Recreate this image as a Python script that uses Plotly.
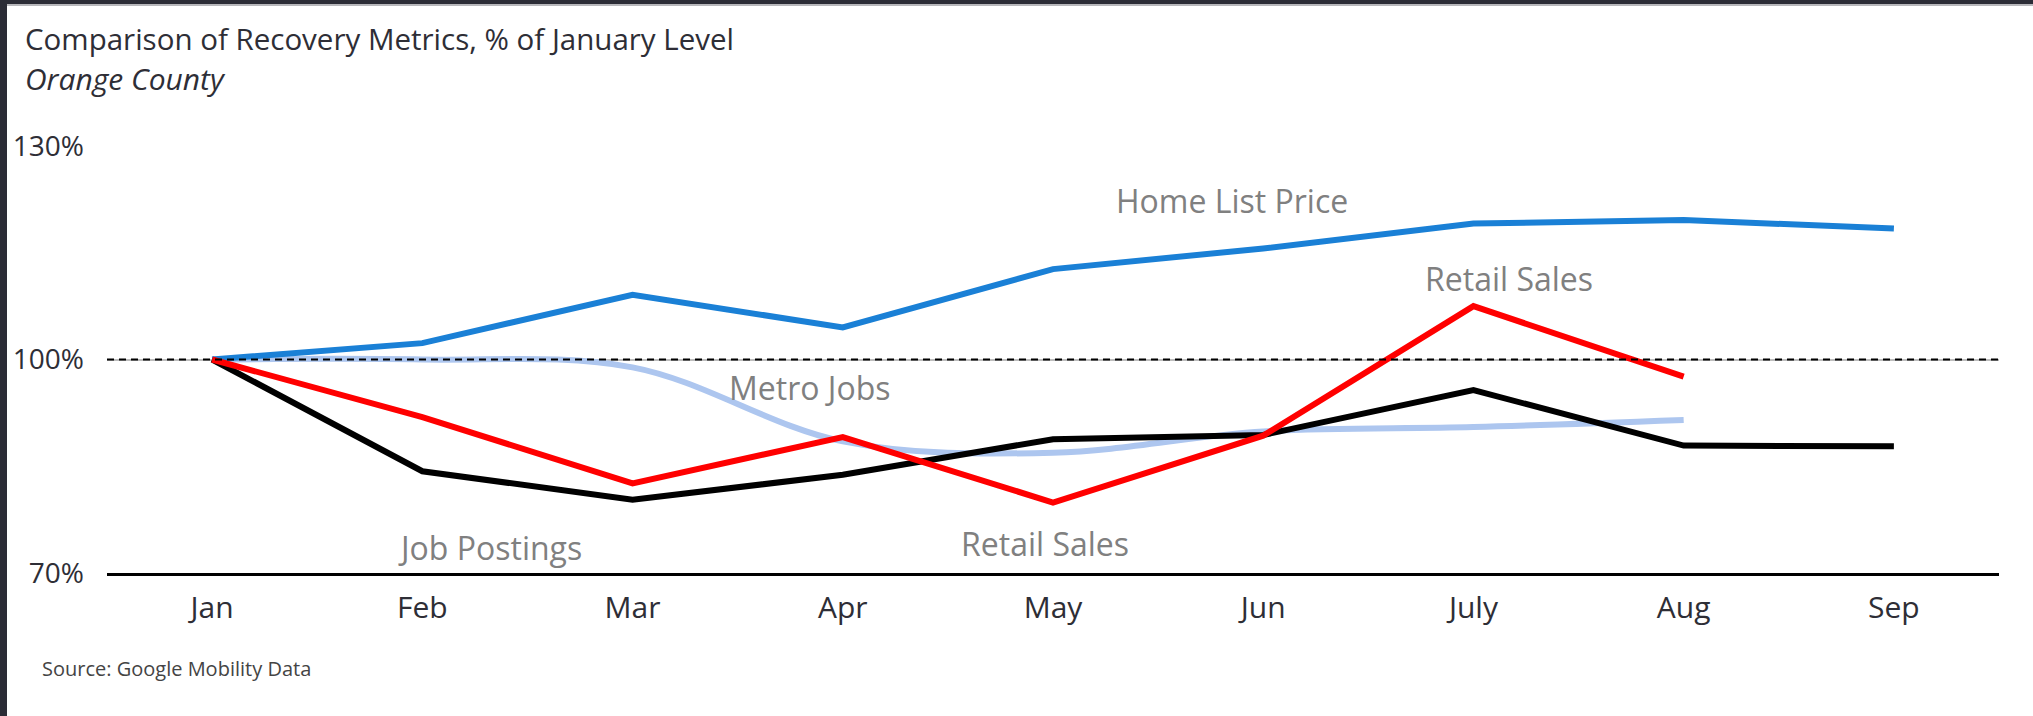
import plotly.graph_objects as go

months = ["Jan", "Feb", "Mar", "Apr", "May", "Jun", "July", "Aug", "Sep"]

home_list_price = [100, 102.3, 109.1, 104.5, 112.7, 115.6, 119.1, 119.6, 118.4]
retail_sales = [100, 91.9, 82.6, 89.1, 79.9, 89.3, 107.5, 97.6]
job_postings = [100, 84.3, 80.3, 83.8, 88.8, 89.4, 95.7, 87.9, 87.8]
metro_jobs = [100, 100, 98.9, 88.5, 86.9, 89.9, 90.5, 91.5]

y_ticks = [70, 100, 130]

W, H = 2033, 716
L, R, T, B = 107, 34, 146, 143  # plot area in page pixels
PW, PH = W - L - R, H - T - B


def px(x):
    return (x - L) / PW


def py(y):
    return (H - B - y) / PH


fig = go.Figure()

fig.add_trace(go.Scatter(x=months[:len(metro_jobs)], y=metro_jobs, mode="lines", name="Metro Jobs",
                         line=dict(color="#adc6ef", width=6, shape="spline")))
fig.add_trace(go.Scatter(x=months, y=home_list_price, mode="lines", name="Home List Price",
                         line=dict(color="#1a80d6", width=6)))
fig.add_trace(go.Scatter(x=months, y=job_postings, mode="lines", name="Job Postings",
                         line=dict(color="#000000", width=6)))
fig.add_trace(go.Scatter(x=months[:len(retail_sales)], y=retail_sales, mode="lines", name="Retail Sales",
                         line=dict(color="#ff0000", width=6)))

# dashed reference line at 100%
fig.add_shape(type="line", xref="paper", yref="y", x0=0, x1=1, y0=100, y1=100,
              line=dict(color="#000000", width=1.8, dash="7px,5px"), layer="above")

# white card inside the dark screenshot frame (paper is dark)
fig.add_shape(type="rect", xref="paper", yref="paper", x0=px(7), x1=px(W + 5), y0=py(4), y1=py(6),
              fillcolor="#b7b7bb", line_width=0, layer="below")
fig.add_shape(type="rect", xref="paper", yref="paper", x0=px(7), x1=px(W + 5), y0=py(6), y1=py(H + 5),
              fillcolor="white", line_width=0, layer="below")

label_font = dict(family="Open Sans", size=32, color="#808080")
labels = [
    ("Home List Price", 4.85, 122.4),
    ("Retail Sales", 6.17, 111.35),
    ("Metro Jobs", 2.84, 96.1),
    ("Job Postings", 1.32, 73.6),
    ("Retail Sales", 3.96, 74.2),
]
for text, x, y in labels:
    fig.add_annotation(text=text, x=x, y=y, xref="x", yref="y", showarrow=False, font=label_font)

fig.add_annotation(text="Comparison of Recovery Metrics, % of January Level", xref="paper", yref="paper",
                   x=px(23), y=py(39), xanchor="left", yanchor="middle", showarrow=False,
                   font=dict(family="Open Sans", size=29.5, color="#2e2e36"))
fig.add_annotation(text="<i>Orange County</i>", xref="paper", yref="paper",
                   x=px(23), y=py(78), xanchor="left", yanchor="middle", showarrow=False,
                   font=dict(family="Open Sans", size=30, color="#2e2e36"))
fig.add_annotation(text="Source: Google Mobility Data", xref="paper", yref="paper",
                   x=px(40), y=py(668), xanchor="left", yanchor="middle", showarrow=False,
                   font=dict(family="Open Sans", size=20, color="#444444"))

fig.update_layout(
    width=W, height=H,
    margin=dict(l=L, r=R, t=T, b=B),
    paper_bgcolor="#2b2c36", plot_bgcolor="white",
    showlegend=False,
    font=dict(family="Open Sans", color="#333333"),
)
fig.update_xaxes(
    type="category", range=[-0.5, 8.5], showgrid=False, zeroline=False,
    showline=True, linecolor="#000000", linewidth=3,
    tickfont=dict(size=30, color="#2e2e36"), ticklabelstandoff=6,
)
fig.update_yaxes(
    range=[70, 130], tickvals=y_ticks, ticktext=[f"{v}%" for v in y_ticks],
    showgrid=True, gridcolor="#bdbdbd", gridwidth=2, zeroline=False, showline=False,
    tickfont=dict(size=28, color="#2e2e36"), ticklabelstandoff=22,
)

fig.write_html("out.html", config={"displayModeBar": False},
               post_script="document.body.style.margin='0';document.body.style.overflow='hidden';")
